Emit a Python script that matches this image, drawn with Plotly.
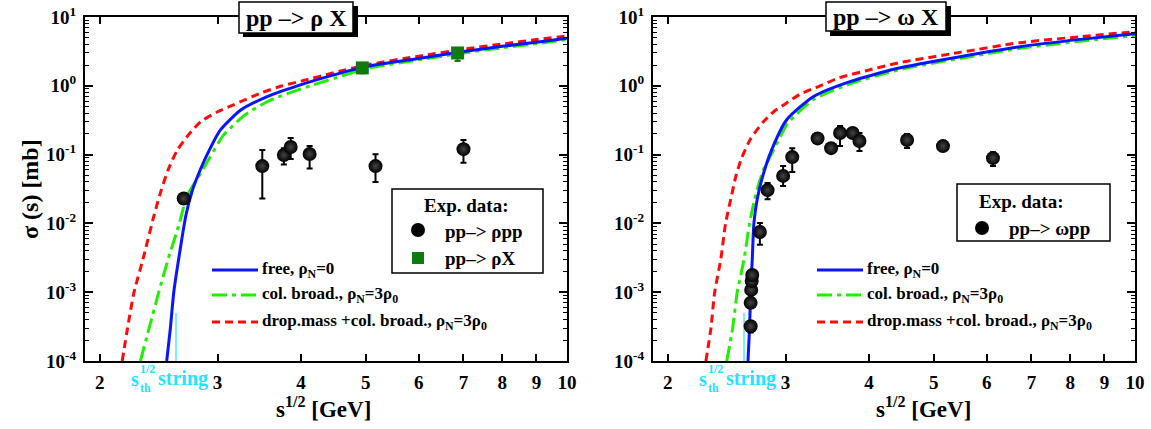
import plotly.graph_objects as go

W, H = 1151, 429

# ---------------- data: left panel (pp -> rho X) ----------------
rho_free_x = [2.518, 2.55, 2.58, 2.63, 2.69, 2.75, 2.80, 2.90, 3.03, 3.25, 3.56, 3.99, 4.48, 5.0, 6.0, 7.0, 8.0, 9.0, 10.0]
rho_free_y = [1e-4, 3e-4, 1e-3, 3.5e-3, 0.013, 0.03, 0.048, 0.104, 0.228, 0.445, 0.695, 1.03, 1.44, 1.9, 2.5, 3.15, 3.75, 4.3, 4.9]

rho_coll_x = [2.30, 2.37, 2.45, 2.53, 2.63, 2.70, 2.80, 2.92, 3.06, 3.3, 3.6, 4.13, 4.5, 5.0, 6.0, 7.0, 8.0, 9.0, 10.0]
rho_coll_y = [1e-4, 3e-4, 1e-3, 3e-3, 1e-2, 0.025, 0.045, 0.09, 0.19, 0.38, 0.62, 1.0, 1.3, 1.78, 2.38, 3.0, 3.57, 4.1, 4.7]

rho_drop_x = [2.16, 2.20, 2.25, 2.32, 2.41, 2.47, 2.53, 2.61, 2.71, 2.83, 3.0, 3.17, 3.5, 3.75, 4.0, 4.48, 5.0, 6.0, 7.0, 8.0, 9.0, 10.0]
rho_drop_y = [1e-4, 3e-4, 1e-3, 3e-3, 0.013, 0.03, 0.06, 0.115, 0.19, 0.3, 0.42, 0.53, 0.8, 1.0, 1.17, 1.55, 2.0, 2.7, 3.4, 4.05, 4.7, 5.3]

rho_pp_x = [2.67, 3.50, 3.77, 3.86, 4.12, 5.17, 7.0]
rho_pp_y = [0.023, 0.068, 0.0986, 0.129, 0.102, 0.068, 0.12]
rho_pp_up = [0.0, 0.049, 0.025, 0.045, 0.031, 0.033, 0.043]
rho_pp_dn = [0.0, 0.045, 0.027, 0.043, 0.039, 0.028, 0.044]

rho_X_x = [4.94, 6.86]
rho_X_y = [1.82, 3.0]
rho_X_up = [0.2, 0.3]
rho_X_dn = [0.3, 0.7]

# ---------------- data: right panel (pp -> omega X) ----------------
om_free_x = [2.636, 2.65, 2.66, 2.675, 2.69, 2.72, 2.763, 2.86, 3.01, 3.3, 3.745, 4.42, 5.47, 6.73, 8.28, 10.0]
om_free_y = [1e-4, 3e-4, 1e-3, 3e-3, 1e-2, 0.022, 0.043, 0.117, 0.318, 0.695, 1.15, 1.8, 2.65, 3.7, 4.73, 5.7]

om_coll_x = [2.45, 2.50, 2.54, 2.60, 2.65, 2.69, 2.73, 2.78, 2.87, 3.02, 3.3, 3.75, 4.42, 5.47, 6.73, 8.28, 10.0]
om_coll_y = [1e-4, 3e-4, 1e-3, 3e-3, 1e-2, 0.02, 0.035, 0.06, 0.11, 0.28, 0.63, 1.07, 1.7, 2.5, 3.5, 4.45, 5.4]

om_drop_x = [2.28, 2.32, 2.35, 2.40, 2.44, 2.49, 2.53, 2.58, 2.66, 2.78, 2.88, 3.0, 3.15, 3.38, 3.6, 4.0, 4.42, 5.47, 6.73, 8.28, 10.0]
om_drop_y = [1e-4, 3e-4, 1e-3, 3e-3, 1e-2, 0.025, 0.05, 0.09, 0.17, 0.3, 0.42, 0.55, 0.75, 1.0, 1.3, 1.7, 2.15, 3.06, 4.24, 5.17, 6.12]

om_pp_x = [2.66, 2.66, 2.665, 2.67, 2.675, 2.746, 2.82, 2.975, 3.07, 3.35, 3.51, 3.62, 3.78, 3.87, 4.56, 5.16, 6.13]
om_pp_y = [3.2e-4, 7.0e-4, 1.08e-3, 1.46e-3, 1.78e-3, 7.5e-3, 0.0305, 0.049, 0.092, 0.172, 0.124, 0.206, 0.206, 0.158, 0.163, 0.133, 0.089]
om_pp_up = [0.5e-4, 1.0e-4, 1.5e-4, 2.0e-4, 2.5e-4, 2.6e-3, 0.008, 0.019, 0.032, 0.0, 0.0, 0.054, 0.0, 0.048, 0.037, 0.0, 0.019]
om_pp_dn = [0.6e-4, 1.0e-4, 1.5e-4, 2.0e-4, 2.5e-4, 2.6e-3, 0.008, 0.014, 0.036, 0.0, 0.0, 0.073, 0.0, 0.045, 0.038, 0.0, 0.021]

s_th_string = 2.6
th_line_y = [1e-4, 5e-4]

x_ticks = [2, 3, 4, 5, 6, 7, 8, 9, 10]
x_ticktext = ["<b>%d</b>" % v for v in x_ticks]
y_ticks = [1e-4, 1e-3, 1e-2, 1e-1, 1e0, 1e1]
y_ticktext = ["<b>10<sup>-4</sup></b>", "<b>10<sup>-3</sup></b>", "<b>10<sup>-2</sup></b>",
              "<b>10<sup>-1</sup></b>", "<b>10<sup>0</sup></b>", "<b>10<sup>1</sup></b>"]
y_minor = [m * 10.0 ** e for e in range(-4, 1) for m in range(2, 10)]

BLUE = "#0a14ff"
GREEN = "#22ee00"
RED = "#ff0a0a"
CYAN = "#22e4ff"
SQGREEN = "#107a10"
FONT = "Liberation Serif"
DASH_RED = "8px,5px"
DASH_GREEN = "15px,5px,4px,5px"


def px(x):
    return x / W


def py(y):
    return 1 - y / H


fig = go.Figure()


def add_curves(xs, ys, col, dash, ax):
    fig.add_trace(go.Scatter(x=xs, y=ys, mode="lines",
                             line=dict(color=col, width=3, dash=dash, shape="spline", smoothing=0.6),
                             xaxis="x" + ax, yaxis="y" + ax, showlegend=False, hoverinfo="skip"))


sphere = dict(size=14, color="black", gradient=dict(type="radial", color="#454545"), line=dict(width=0))
ebar = dict(type="data", symmetric=False, color="black", thickness=2, width=3)

# ---- left panel
fig.add_trace(go.Scatter(x=[s_th_string, s_th_string], y=th_line_y, mode="lines", line=dict(color=CYAN, width=1.2),
                         xaxis="x", yaxis="y", showlegend=False))
add_curves(rho_drop_x, rho_drop_y, RED, DASH_RED, "")
add_curves(rho_coll_x, rho_coll_y, GREEN, DASH_GREEN, "")
add_curves(rho_free_x, rho_free_y, BLUE, "solid", "")
fig.add_trace(go.Scatter(x=rho_pp_x, y=rho_pp_y, mode="markers", marker=sphere,
                         error_y=dict(array=rho_pp_up, arrayminus=rho_pp_dn, **ebar),
                         xaxis="x", yaxis="y", showlegend=False))
fig.add_trace(go.Scatter(x=rho_X_x, y=rho_X_y, mode="markers",
                         marker=dict(symbol="square", size=13, color=SQGREEN, line=dict(width=0)),
                         error_y=dict(array=rho_X_up, arrayminus=rho_X_dn, type="data", symmetric=False,
                                      color=SQGREEN, thickness=2, width=3),
                         xaxis="x", yaxis="y", showlegend=False))

# ---- right panel
fig.add_trace(go.Scatter(x=[s_th_string, s_th_string], y=th_line_y, mode="lines", line=dict(color=CYAN, width=1.2),
                         xaxis="x2", yaxis="y2", showlegend=False))
add_curves(om_drop_x, om_drop_y, RED, DASH_RED, "2")
add_curves(om_coll_x, om_coll_y, GREEN, DASH_GREEN, "2")
add_curves(om_free_x, om_free_y, BLUE, "solid", "2")
fig.add_trace(go.Scatter(x=om_pp_x, y=om_pp_y, mode="markers", marker=sphere,
                         error_y=dict(array=om_pp_up, arrayminus=om_pp_dn, **ebar),
                         xaxis="x2", yaxis="y2", showlegend=False))

tickfont = dict(family=FONT, size=19, color="black")
common_x = dict(type="log", range=[0.2788, 1.0], tickmode="array", tickvals=x_ticks, ticktext=x_ticktext,
                ticks="inside", ticklen=7, tickwidth=1.5, tickcolor="black", showline=True, linewidth=2,
                linecolor="black", mirror="ticks", showgrid=False, zeroline=False, tickfont=tickfont,
                ticklabelstandoff=3, automargin=False)
common_y = dict(type="log", range=[-4, 1], tickmode="array", tickvals=y_ticks, ticktext=y_ticktext,
                ticks="inside", ticklen=8, tickwidth=1.5, tickcolor="black", showline=True, linewidth=2,
                linecolor="black", mirror="ticks", showgrid=False, zeroline=False, tickfont=tickfont,
                minor=dict(tickmode="array", tickvals=y_minor, ticks="inside", ticklen=4, tickwidth=1,
                           tickcolor="black", showgrid=False), ticklabelstandoff=3, automargin=False)

ydom = [py(361), py(17)]
fig.update_layout(
    width=W, height=H, margin=dict(l=0, r=0, t=0, b=0, autoexpand=False), showlegend=False,
    plot_bgcolor="white", paper_bgcolor="white", hovermode=False,
    xaxis=dict(domain=[px(85), px(567)], anchor="y", **common_x),
    yaxis=dict(domain=ydom, anchor="x", **common_y),
    xaxis2=dict(domain=[px(653), px(1135)], anchor="y2", **common_x),
    yaxis2=dict(domain=ydom, anchor="x2", **common_y),
)

shapes = []
annots = []


def text(x, y, s, size, color="black", xanchor="center", angle=0):
    annots.append(dict(x=px(x), y=py(y), xref="paper", yref="paper", text="<b>" + s + "</b>", showarrow=False,
                       xanchor=xanchor, yanchor="middle", textangle=angle,
                       font=dict(family=FONT, size=size, color=color)))


def rect(x0, y0, x1, y1, fill, line_w=0, line_c="black"):
    shapes.append(dict(type="rect", xref="paper", yref="paper", x0=px(x0), x1=px(x1), y0=py(y1), y1=py(y0),
                       fillcolor=fill, line=dict(width=line_w, color=line_c), layer="above"))


# title boxes
rect(243, 6, 358, 37, "black")
rect(239, 2, 353, 33, "white", 1.5)
text(296, 18, "pp –> ρ X", 24)
rect(830, 6, 951, 36, "black")
rect(826, 2, 946, 31, "white", 1.5)
text(886, 17, "pp –> ω X", 24)

# axis titles
text(30, 189, "σ (s) [mb]", 24, angle=-90)
text(323, 407, "s<sup>1/2</sup> [GeV]", 23)
text(924, 407, "s<sup>1/2</sup> [GeV]", 23)

# s_th string labels
for off in (0, 568):
    text(129 + off, 379, "s", 20, CYAN, xanchor="left")
    text(138 + off, 369, "1/2", 12, CYAN, xanchor="left")
    text(138 + off, 388, "th", 12, CYAN, xanchor="left")
    text(156 + off, 378, "string", 20, CYAN, xanchor="left")

# curve legends
leg_labels = ["free, ρ<sub>N</sub>=0", "col. broad., ρ<sub>N</sub>=3ρ<sub>0</sub>",
              "drop.mass +col. broad., ρ<sub>N</sub>=3ρ<sub>0</sub>"]
leg_styles = [(BLUE, "solid"), (GREEN, DASH_GREEN), (RED, DASH_RED)]
leg_rows = [270, 295, 322]
for x0 in (212, 817):
    for (c, d), yy, lab in zip(leg_styles, leg_rows, leg_labels):
        shapes.append(dict(type="line", xref="paper", yref="paper", x0=px(x0), x1=px(x0 + 46), y0=py(yy), y1=py(yy),
                           line=dict(color=c, width=3, dash=d), layer="above"))
        text(x0 + 48, yy, lab, 17, xanchor="left")

# exp data boxes
rect(392, 189, 543, 273, "white", 1.5)
text(466, 206, "Exp. data:", 19)
shapes.append(dict(type="circle", xref="paper", yref="paper", x0=px(411), x1=px(425), y0=py(237), y1=py(223),
                   fillcolor="black", line=dict(width=0), layer="above"))
text(443, 231, "pp–> ρpp", 19, xanchor="left")
rect(412, 252, 424, 264, SQGREEN)
text(443, 258, "pp–> ρX", 19, xanchor="left")

rect(957, 184, 1110, 241, "white", 1.5)
text(1021, 201, "Exp. data:", 19)
shapes.append(dict(type="circle", xref="paper", yref="paper", x0=px(975), x1=px(989), y0=py(235), y1=py(221),
                   fillcolor="black", line=dict(width=0), layer="above"))
text(1007, 228, "pp–> ωpp", 19, xanchor="left")

fig.update_layout(shapes=shapes, annotations=annots)
fig.write_html("out.html", config={"displayModeBar": False},
               post_script="document.body.style.margin='0px';document.body.style.overflow='hidden';")
